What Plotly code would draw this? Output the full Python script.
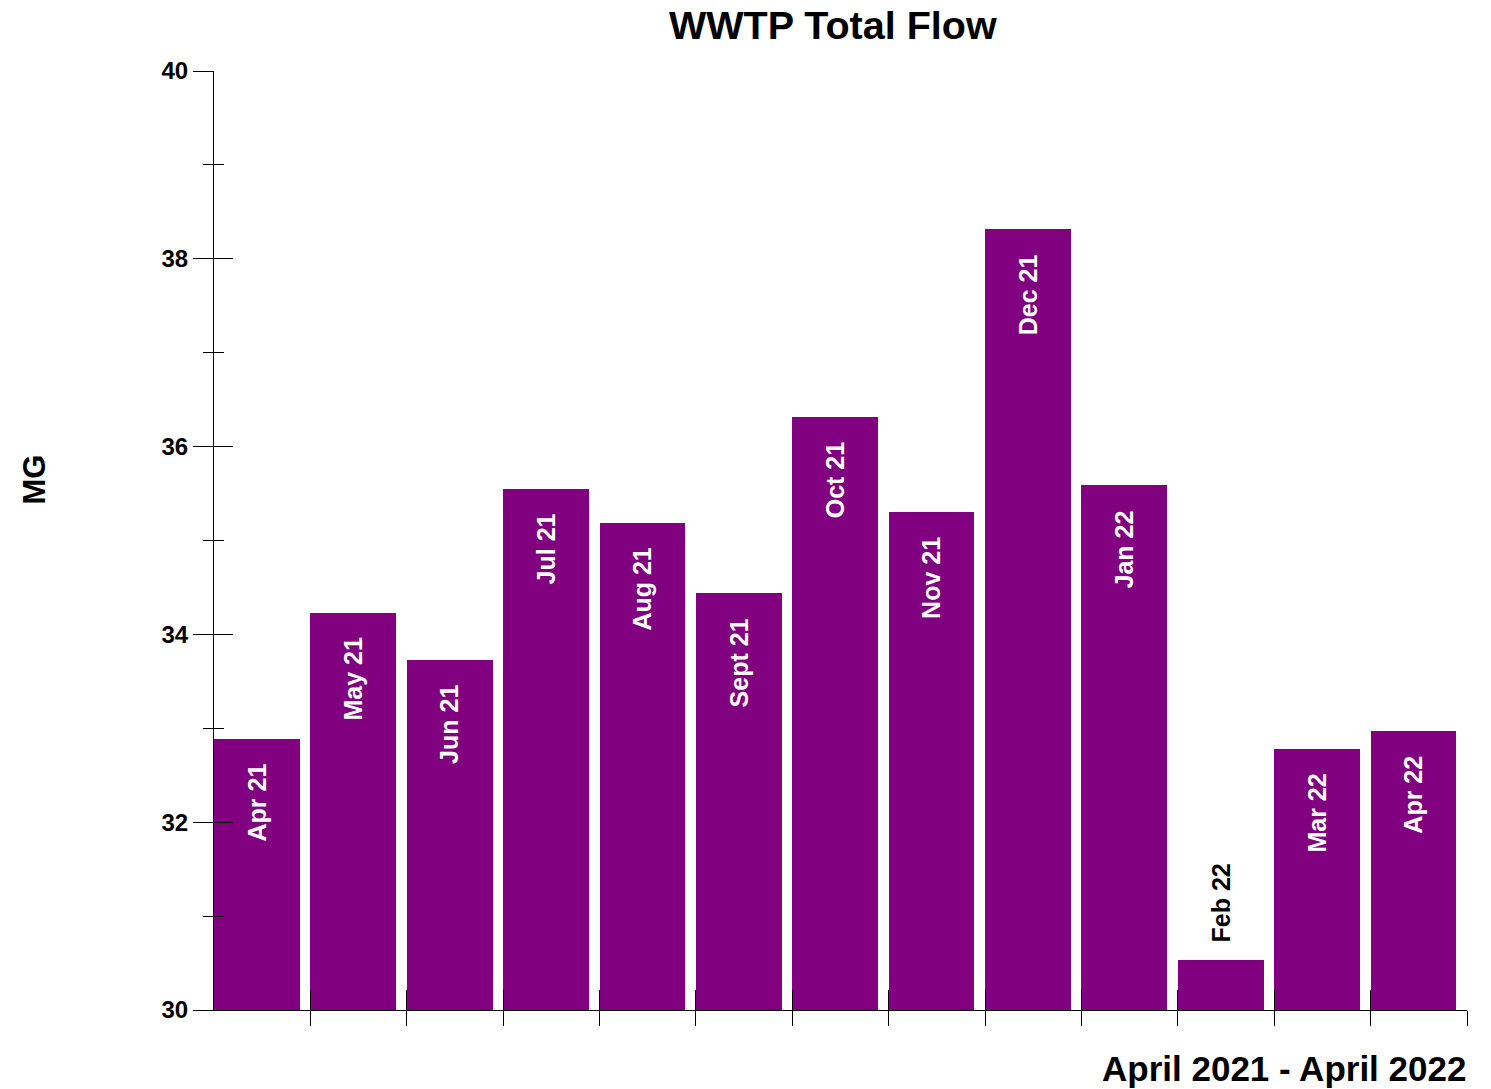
import plotly.graph_objects as go

months = ["Apr 21", "May 21", "Jun 21", "Jul 21", "Aug 21", "Sept 21", "Oct 21",
          "Nov 21", "Dec 21", "Jan 22", "Feb 22", "Mar 22", "Apr 22"]
flow_mg = [32.89, 34.23, 33.73, 35.55, 35.19, 34.44, 36.32,
           35.30, 38.32, 35.59, 30.53, 32.78, 32.97]
y_major = [30, 32, 34, 36, 38, 40]
y_range = [30, 40]

FONT = "Liberation Sans, Arial, sans-serif"
PURPLE = "#800080"
BAR_W = 0.89

idx = list(range(len(months)))

fig = go.Figure()
fig.add_trace(go.Bar(
    x=idx, y=[v - y_range[0] for v in flow_mg], base=y_range[0],
    width=BAR_W, offset=-0.5, marker=dict(color=PURPLE, line=dict(width=0)),
    hoverinfo="skip", showlegend=False,
))
# helper trace for the overlay axes (inside ticks)
fig.add_trace(go.Scatter(x=[None], y=[None], xaxis="x2", yaxis="y2",
                         showlegend=False, hoverinfo="skip"))

annotations = []
for i, (m, v) in enumerate(zip(months, flow_mg)):
    inside = (v - y_range[0]) > 1.2
    annotations.append(dict(
        x=i - 0.5 + BAR_W / 2, y=v, xref="x", yref="y", text=f"<b>{m}</b>", textangle=-90,
        showarrow=False, xanchor="center",
        yanchor="top" if inside else "bottom",
        yshift=-23 if inside else 16,
        font=dict(family=FONT, size=25, color="white" if inside else "black"),
    ))

annotations += [
    dict(text="<b>WWTP Total Flow</b>", xref="paper", yref="paper", x=0.494, y=1,
         yshift=46, xanchor="center", yanchor="middle", showarrow=False,
         font=dict(family=FONT, size=39.5, color="black")),
    dict(text="<b>MG</b>", xref="paper", yref="paper", x=0, xshift=-180, y=0.565,
         xanchor="center", yanchor="middle", textangle=-90, showarrow=False,
         font=dict(family=FONT, size=31, color="black")),
    dict(text="<b>April 2021 - April 2022</b>", xref="paper", yref="paper", x=1, xshift=1,
         y=0, yshift=-58, xanchor="right", yanchor="middle", showarrow=False,
         font=dict(family=FONT, size=35, color="black")),
]

fig.update_layout(
    width=1491, height=1089,
    margin=dict(l=214, r=24, t=71, b=79),
    paper_bgcolor="white", plot_bgcolor="white",
    bargap=0,
    xaxis=dict(range=[-0.5, len(months) - 0.5], tickvals=[i + 0.5 for i in idx],
               showticklabels=False, ticks="outside", ticklen=15, tickwidth=1,
               tickcolor="black", showline=True, linecolor="black", linewidth=1,
               showgrid=False, zeroline=False, fixedrange=True),
    xaxis2=dict(range=[-0.5, len(months) - 0.5], tickvals=[i + 0.5 for i in idx],
                overlaying="x", anchor="y", showticklabels=False, ticks="inside",
                ticklen=20, tickwidth=1, tickcolor="black", showline=False,
                showgrid=False, zeroline=False),
    yaxis=dict(range=y_range, tickvals=y_major, ticktext=[f"<b>{t}</b>" for t in y_major],
               ticks="outside", ticklen=20, tickwidth=1, tickcolor="black",
               minor=dict(dtick=1, ticks="outside", ticklen=10, tickwidth=1,
                          tickcolor="black", tick0=0),
               showline=True, linecolor="black", linewidth=1, showgrid=False,
               zeroline=False, tickfont=dict(family=FONT, size=24, color="black")),
    yaxis2=dict(range=y_range, tickvals=y_major, overlaying="y", anchor="x", side="left",
                showticklabels=False, ticks="inside", ticklen=19, tickwidth=1,
                tickcolor="black",
                minor=dict(dtick=1, ticks="inside", ticklen=10, tickwidth=1,
                           tickcolor="black", tick0=0),
                showline=False, showgrid=False, zeroline=False),
    annotations=annotations,
)

fig.write_html("out.html",
               config={"displayModeBar": False},
               post_script="document.body.style.margin='0';"
                           "document.body.style.overflow='hidden';")
